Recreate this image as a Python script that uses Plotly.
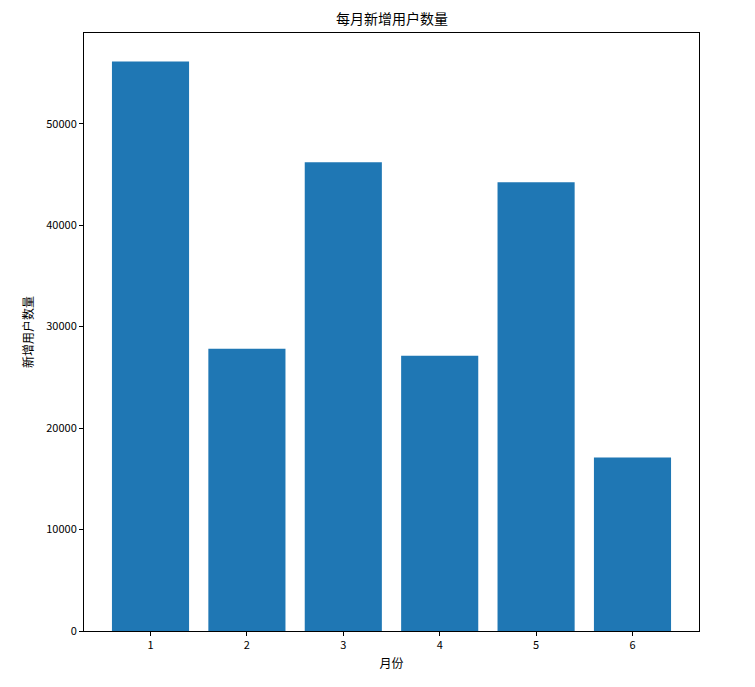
import plotly.graph_objects as go

months = [1, 2, 3, 4, 5, 6]
new_users = [56130, 27810, 46210, 27120, 44220, 17090]
y_ticks = [0, 10000, 20000, 30000, 40000, 50000]

FONT = "Noto Sans CJK SC, Noto Sans, DejaVu Sans, sans-serif"

fig = go.Figure()
fig.add_trace(go.Bar(
    x=months,
    y=new_users,
    width=0.8,
    marker=dict(color="#1f77b4", line=dict(width=0)),
))

axis_common = dict(
    showline=True,
    linecolor="black",
    linewidth=1,
    mirror=True,
    ticks="outside",
    ticklen=4,
    tickwidth=1,
    tickcolor="black",
    showgrid=False,
    zeroline=False,
    tickfont=dict(size=11, color="black", family=FONT),
)

# page body adds ~8px offset, so margins are shifted to compensate
fig.update_layout(
    width=755,
    height=687,
    margin=dict(l=76, r=64, t=25, b=64),
    paper_bgcolor="white",
    plot_bgcolor="white",
    font=dict(family=FONT, color="black"),
    showlegend=False,
    xaxis=dict(
        range=[0.31, 6.69],
        tickmode="array",
        tickvals=months,
        ticktext=[str(m) for m in months],
        title=dict(text="月份", font=dict(size=12, color="black", family=FONT), standoff=8),
        **axis_common,
    ),
    yaxis=dict(
        range=[0, max(new_users) * 1.05],
        tickmode="array",
        tickvals=y_ticks,
        ticktext=[str(v) for v in y_ticks],
        title=dict(text="新增用户数量", font=dict(size=12, color="black", family=FONT), standoff=10),
        **axis_common,
    ),
)

# title as a paper annotation sitting just above the axes box
fig.add_annotation(
    text="每月新增用户数量",
    xref="paper", yref="paper",
    x=0.5, y=1,
    xanchor="center", yanchor="bottom",
    yshift=3,
    showarrow=False,
    font=dict(size=14, color="black", family=FONT),
)

fig.write_html("out.html")
